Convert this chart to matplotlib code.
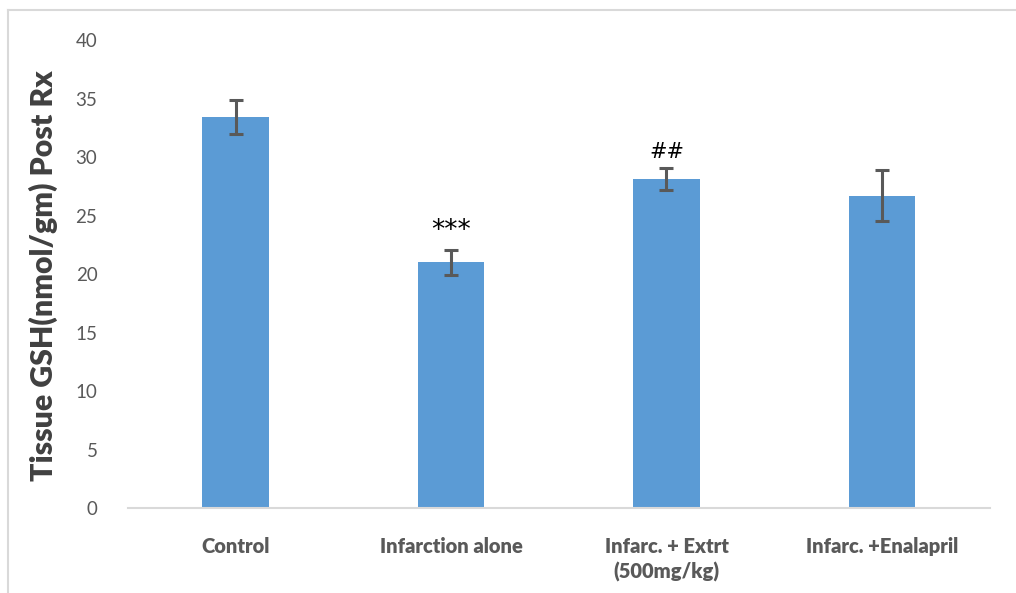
import matplotlib
matplotlib.use("Agg")
import matplotlib.pyplot as plt
from matplotlib.lines import Line2D

categories = ["Control", "Infarction alone", "Infarc. + Extrt\n(500mg/kg)", "Infarc. +Enalapril"]
means = [33.4, 21.0, 28.1, 26.7]
errors = [1.45, 1.05, 0.95, 2.15]
marks = ["", "***", "##", ""]
y_ticks = [0, 5, 10, 15, 20, 25, 30, 35, 40]

plt.rcParams["font.family"] = ["Lato", "DejaVu Sans"]

fig = plt.figure(figsize=(10.16, 5.93), dpi=100)
ax = fig.add_axes([0.126, 0.1433, 0.848, 0.7892])

x = list(range(len(categories)))
ax.bar(x, means, width=0.31, color="#5B9BD5", zorder=2)
ax.errorbar(x, means, yerr=errors, fmt="none", ecolor="#595959",
            elinewidth=2.2, capsize=5, capthick=2.2, zorder=3)

mark_sizes = {"***": 19, "##": 15}
for xi, m, e, lab in zip(x, means, errors, marks):
    if lab:
        ax.text(xi, m + e + 0.5, lab, ha="center", va="bottom",
                fontsize=mark_sizes[lab], color="black", family=["DejaVu Sans"])

ax.set_xlim(-0.5, len(categories) - 0.5)
ax.set_ylim(0, 40)
ax.set_yticks(y_ticks)
ax.set_xticks(x)
ax.set_xticklabels(categories, fontsize=14.5, fontweight="heavy", color="#595959",
                   linespacing=1.35)
ax.tick_params(axis="y", labelsize=13.5, labelcolor="#595959", length=0, pad=22)
ax.tick_params(axis="x", length=0, pad=21)
for xl in ax.get_xticklabels():
    xl.set_verticalalignment("top")

for side in ["top", "right", "left"]:
    ax.spines[side].set_visible(False)
ax.spines["bottom"].set_color("#D9D9D9")
ax.spines["bottom"].set_linewidth(1.5)

fig.text(0.043, 0.535, "Tissue GSH(nmol/gm) Post Rx", rotation=90,
         ha="center", va="center", fontsize=21.8, fontweight="heavy",
         color="#404040")

# outer frame (top and left edges)
fig.add_artist(Line2D([8 / 1016, 1.0], [1 - 10 / 593, 1 - 10 / 593],
                      transform=fig.transFigure, color="#D9D9D9", lw=1.5))
fig.add_artist(Line2D([8 / 1016, 8 / 1016], [0.0, 1 - 10 / 593],
                      transform=fig.transFigure, color="#D9D9D9", lw=1.5))

fig.savefig("out.png", dpi=100, facecolor="white")
